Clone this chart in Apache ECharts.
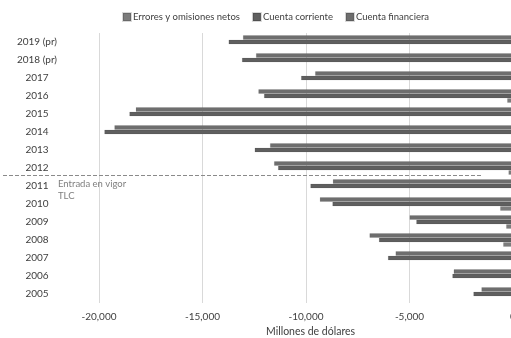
<!DOCTYPE html>
<html><head><meta charset="utf-8">
<script src="https://cdn.jsdelivr.net/npm/echarts@6/dist/echarts.min.js"></script>
<style>html,body{margin:0;padding:0;background:#fff}#c{width:511px;height:338px}</style>
</head><body><div id="c"></div>
<script>
const categories = ['2005','2006','2007','2008','2009','2010','2011','2012','2013','2014','2015','2016','2017','2018 (pr)','2019 (pr)'];
const errores = [387, 63, 368, -474, -330, -620, 1083, -218, 741, 484, 307, -280, 678, 677, 692];
const corriente = [-1912, -2928, -6040, -6476, -4671, -8722, -9786, -11350, -12478, -19739, -18530, -12027, -10237, -13092, -13737];
const financiera = [-1525, -2865, -5672, -6931, -4995, -9332, -8703, -11543, -11737, -19255, -18223, -12300, -9559, -12415, -13045];
const xTicks = {min: -20000, max: 0, interval: 5000};
const seriesNames = ['Errores y omisiones netos', 'Cuenta corriente', 'Cuenta financiera'];
const annotation = {between: ['2012', '2011'], text: 'Entrada en vigor\nTLC', endValue: -1500};

const FONT = 'Lato';
const chart = echarts.init(document.getElementById('c'));
const barStyle = (c) => ({color: c, borderColor: 'rgba(0,0,0,0.15)', borderWidth: 0.5});
chart.setOption({
  animation: false,
  textStyle: {fontFamily: FONT},
  legend: {
    data: seriesNames, left: 117, top: 7, itemWidth: 8, itemHeight: 8, itemGap: 12,
    icon: 'rect', textStyle: {fontSize: 9.5, color: '#404040', fontFamily: FONT, padding: [0, 0, 0, -3]}
  },
  grid: {left: 99, right: -2, top: 33, bottom: 35, containLabel: false, outerBoundsMode: 'none'},
  xAxis: {
    type: 'value', min: xTicks.min, max: xTicks.max, interval: xTicks.interval,
    axisLine: {show: false}, axisTick: {show: false},
    splitLine: {lineStyle: {color: '#d9d9d9', width: 1}},
    axisLabel: {color: '#404040', fontSize: 10, margin: 9, fontFamily: FONT,
      formatter: v => v.toLocaleString('en-US')}
  },
  yAxis: {
    type: 'category', data: categories,
    axisLine: {show: false}, axisTick: {show: false},
    axisLabel: {color: '#404040', fontSize: 10, align: 'center', margin: 62, fontFamily: FONT}
  },
  series: [
    {name: seriesNames[2], type: 'bar', data: financiera, barGap: '0%', barCategoryGap: '25%', itemStyle: barStyle('#6e6e6e')},
    {name: seriesNames[1], type: 'bar', data: corriente, barGap: '0%', barCategoryGap: '25%', itemStyle: barStyle('#5f5f5f')},
    {name: seriesNames[0], type: 'bar', data: errores, barGap: '0%', barCategoryGap: '25%', itemStyle: barStyle('#7c7c7c')}
  ]
});

const y1 = chart.convertToPixel({yAxisIndex: 0}, annotation.between[0]);
const y2 = chart.convertToPixel({yAxisIndex: 0}, annotation.between[1]);
const yLine = Math.round(y1 + (y2 - y1) * 0.4) + 0.5;
const xEnd = chart.convertToPixel({xAxisIndex: 0}, annotation.endValue);
chart.setOption({
  graphic: [
    {type: 'line', shape: {x1: 3, y1: yLine, x2: xEnd, y2: yLine},
     style: {stroke: '#8a8a8a', lineWidth: 1, lineDash: [4, 2]}, z: 10},
    {type: 'text', left: 58, top: yLine + 2,
     style: {text: annotation.text, fill: '#7f7f7f', fontSize: 9.5, fontFamily: FONT, lineHeight: 12.5}, z: 10},
    {type: 'text', left: 266, top: 326,
     style: {text: 'Millones de dólares', fill: '#404040', fontSize: 10.5, fontFamily: FONT, textAlign: 'center'}}
  ]
});
</script></body></html>
